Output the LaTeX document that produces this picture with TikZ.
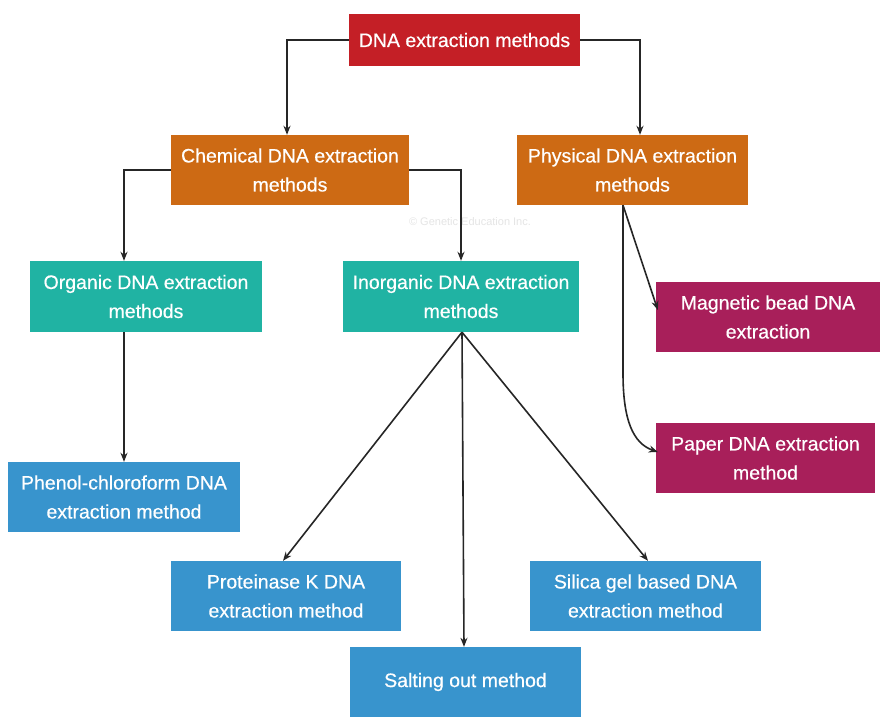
\documentclass[tikz,border=0pt]{standalone}
\usepackage{fontspec}
\setmainfont{Liberation Sans}
\newfontfamily\boxfont{Liberation Sans}[FakeBold=0.5]
\usetikzlibrary{arrows.meta,calc}
\definecolor{cred}{HTML}{C41F26}
\definecolor{corange}{HTML}{CD6A14}
\definecolor{cteal}{HTML}{20B3A3}
\definecolor{cmag}{HTML}{A81F5A}
\definecolor{cblue}{HTML}{3894CD}
\begin{document}
\begin{tikzpicture}[x=1pt,y=-1pt,
  box/.style={draw=none, text=white, align=center, inner sep=0pt,
    font=\boxfont\fontsize{19.5}{29}\selectfont, minimum height=70pt},
  conn/.style={line width=1.6pt, draw=black!85, -{Stealth[length=9pt,width=7pt]}}]
\useasboundingbox (0,0) rectangle (880,723);
\fill[white] (0,0) rectangle (880,723);
\node[text=black!10, font=\fontsize{11}{13}\selectfont] (wm) at (470,222) {\textcopyright\ Genetic Education Inc.};

\node[box, fill=cred, minimum width=231pt, minimum height=52pt] (top) at (464.5,40) {DNA extraction methods};
\node[box, fill=corange, minimum width=238pt] (chem) at (290,170) {Chemical DNA extraction\\methods};
\node[box, fill=corange, minimum width=231pt] (phys) at (632.5,170) {Physical DNA extraction\\methods};
\node[box, fill=cteal, minimum width=232pt, minimum height=71pt] (org) at (146,296.5) {Organic DNA extraction\\methods};
\node[box, fill=cteal, minimum width=236pt, minimum height=71pt] (inorg) at (461,296.5) {Inorganic DNA extraction\\methods};
\node[box, fill=cmag, minimum width=224pt] (magn) at (768,317) {Magnetic bead DNA\\extraction};
\node[box, fill=cmag, minimum width=219pt] (paper) at (765.5,458) {Paper DNA extraction\\method};
\node[box, fill=cblue, minimum width=232pt] (phenol) at (124,497) {Phenol-chloroform DNA\\extraction method};
\node[box, fill=cblue, minimum width=230pt] (prot) at (286,596) {Proteinase K DNA\\extraction method};
\node[box, fill=cblue, minimum width=231pt] (silica) at (645.5,596) {Silica gel based DNA\\extraction method};
\node[box, fill=cblue, minimum width=231pt] (salt) at (465.5,682) {Salting out method};

\draw[conn] (top.west) -| ([xshift=-3pt]chem.north);
\draw[conn] (top.east) -| ([xshift=7.5pt]phys.north);
\draw[conn] (chem.east) -| (inorg.north);
\draw[conn] (chem.west) -| (phenol.north |- org.north);
\draw[conn] (org.south -| phenol.north) -- (phenol.north);
\draw[conn] ([xshift=1pt]inorg.south) -- ([xshift=-3pt]prot.north);
\draw[conn] ([xshift=1pt]inorg.south) -- ([xshift=-1.5pt]salt.north);
\draw[conn] ([xshift=1pt]inorg.south) -- ([xshift=2.5pt]silica.north);
\coordinate (ps) at ([xshift=-9.5pt]phys.south);
\coordinate (me) at ([xshift=2pt,yshift=7pt]magn.west);
\coordinate (pe) at ([xshift=2pt,yshift=6pt]paper.west);
\draw[conn] (ps) -- (me);
\draw[conn] (ps) -- ($(ps)+(0,168)$) .. controls ($(ps)+(0,215)$) and ($(ps)+(10,238)$) .. (pe);
\end{tikzpicture}
\end{document}
